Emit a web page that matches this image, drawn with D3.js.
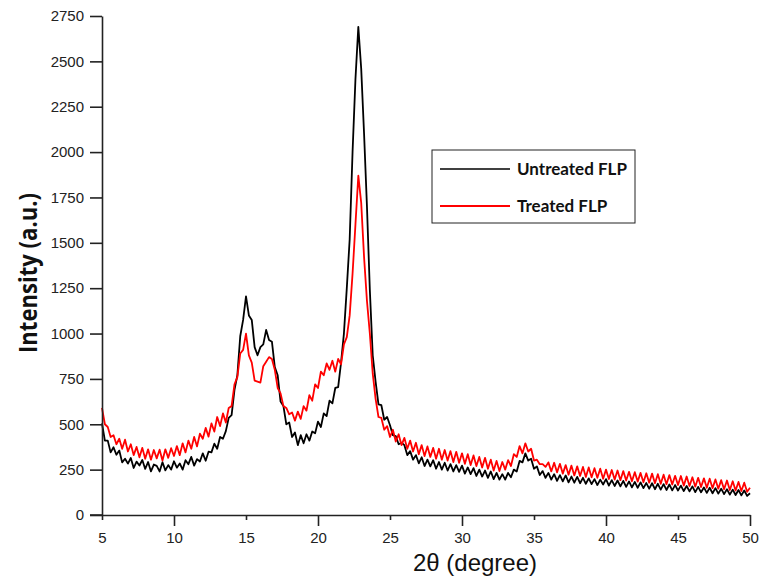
<!DOCTYPE html>
<html>
<head>
<meta charset="utf-8">
<script src="https://cdn.jsdelivr.net/npm/d3@7"></script>
<style>
  body { margin: 0; background: #fff; }
  svg { display: block; }
</style>
</head>
<body>
<div id="chart"></div>
<script>
///data, 2 theta from 5 to 50 every 0.2 degree
var thetaStart = 5, thetaEnd = 50, thetaStep = 0.2;

var untreated = [
  505, 410, 410, 345, 373,   332, 355, 290, 310, 283,
  314, 259, 294, 273, 303,   254, 292, 240, 278, 271,
  240, 291, 246, 275, 250,   296, 261, 284, 250, 302,
  280, 320, 272, 308, 295,   340, 299, 349, 345, 393,
  365, 430, 420, 462, 535,   550, 690, 770, 985, 1075,
  1205, 1100, 1075, 925, 880, 925, 940, 1020, 965, 955,
  815, 770, 625, 600, 500,   510, 430, 455, 385, 440,
  395, 445, 410, 460, 450,   515, 485, 560, 545, 630,
  615, 700, 705, 840, 1000,  1250, 1520, 2000, 2400, 2690,
  2460, 2100, 1700, 1240, 880, 735, 610, 605, 525, 540,
  495, 440, 435, 390, 398,   385, 330, 352, 305, 330,
  285, 318, 270, 305, 268,   302, 255, 292, 250, 288,
  245, 280, 240, 275, 238,   272, 228, 262, 225, 258,
  215, 250, 212, 245, 205,   240, 198, 232, 195, 225,
  195, 232, 208, 250, 240,   298, 290, 340, 300, 310,
  255, 268, 220, 242, 205,   232, 195, 225, 188, 220,
  185, 218, 180, 212, 178,   210, 175, 205, 172, 202,
  170, 198, 165, 195, 168,   198, 162, 192, 160, 190,
  158, 188, 155, 185, 152,   182, 150, 180, 148, 176,
  145, 175, 142, 172, 140,   170, 138, 168, 136, 165,
  135, 162, 132, 160, 130,   158, 126, 155, 125, 152,
  122, 150, 120, 148, 118,   145, 115, 142, 112, 140,
  110, 138, 108, 135, 105,   120
];

var treated = [
  590, 500, 485, 430, 440,   390, 420, 365, 415, 350,
  390, 330, 375, 318, 370,   310, 362, 305, 358, 312,
  360, 300, 362, 315, 368,   325, 380, 330, 395, 345,
  410, 365, 430, 378, 448,   420, 480, 432, 505, 460,
  540, 490, 560, 510, 590,   600, 720, 760, 890, 910,
  1000, 880, 840, 740, 735,  730, 820, 845, 870, 860,
  800, 700, 670, 600, 590,   555, 565, 520, 570, 530,
  600, 575, 660, 630, 720,   700, 790, 770, 835, 800,
  850, 790, 860, 830, 940,   980, 1100, 1330, 1600, 1870,
  1720, 1420, 1180, 1000, 780, 640, 540, 535, 470, 490,
  430, 470, 405, 445, 385,   425, 365, 410, 350, 398,
  335, 385, 325, 378, 320,   370, 310, 365, 305, 358,
  300, 352, 292, 348, 288,   340, 282, 335, 275, 328,
  270, 320, 262, 315, 255,   305, 245, 298, 242, 292,
  250, 302, 270, 335, 320,   380, 340, 395, 350, 365,
  300, 305, 280, 280, 265,   290, 240, 288, 235, 282,
  228, 275, 222, 272, 218,   268, 215, 265, 210, 262,
  208, 258, 205, 255, 200,   250, 198, 248, 195, 245,
  192, 242, 190, 238, 186,   236, 184, 232, 180, 230,
  178, 228, 175, 225, 172,   222, 170, 220, 168, 216,
  165, 215, 162, 212, 160,   208, 156, 205, 154, 202,
  150, 200, 148, 196, 145,   192, 142, 190, 138, 186,
  135, 182, 132, 178, 128,   150
];

var xTicks = [5, 10, 15, 20, 25, 30, 35, 40, 45, 50];
var yTicks = [0, 250, 500, 750, 1000, 1250, 1500, 1750, 2000, 2250, 2500, 2750];
var seriesNames = ["Untreated FLP", "Treated FLP"];
var seriesColors = ["#000000", "#ff0000"];

///sizes
var width = 761, height = 576;
var margin = { left: 102, right: 11, top: 16, bottom: 61 };

var svg = d3.select('#chart').append('svg')
    .attr('width', width)
    .attr('height', height);

var x = d3.scaleLinear()
    .domain([thetaStart, thetaEnd])
    .range([margin.left, width - margin.right]);

var y = d3.scaleLinear()
    .domain([0, 2750])
    .range([height - margin.bottom, margin.top]);

var theta = untreated.map((_, i) => +(thetaStart + i * thetaStep).toFixed(1));

var line = d3.line()
    .x((d, i) => x(theta[i]))
    .y(d => y(d));

///curves, red drawn over black
[untreated, treated].forEach((s, k) => {
    svg.append('path')
        .datum(s)
        .attr('fill', 'none')
        .attr('stroke', seriesColors[k])
        .attr('stroke-width', 1.8)
        .attr('stroke-linejoin', 'round')
        .attr('d', line);
});

///axes
var yAxis = svg.append('g')
    .attr('transform', `translate(${margin.left},0)`)
    .call(d3.axisLeft(y).tickValues(yTicks).tickFormat(d3.format('d'))
        .tickSize(12).tickPadding(6).tickSizeOuter(0));

var xAxis = svg.append('g')
    .attr('transform', `translate(0,${height - margin.bottom})`)
    .call(d3.axisBottom(x).tickValues(xTicks).tickFormat(d3.format('d'))
        .tickSize(11).tickPadding(6).tickSizeOuter(0));

xAxis.selectAll('.tick line')
    .attr('y2', d => d % 10 === 0 ? 11 : 5);

[xAxis, yAxis].forEach(a => {
    a.select('.domain').attr('stroke', '#222').attr('stroke-width', 1.6);
    a.selectAll('.tick line').attr('stroke', '#222').attr('stroke-width', 1.6);
    a.selectAll('.tick text')
        .attr('fill', '#222')
        .style('font-family', '"Liberation Sans", Arial, sans-serif')
        .style('font-size', '15px');
});

// x axis line runs a little past the y axis on the left
svg.append('line')
    .attr('x1', margin.left - 12).attr('x2', margin.left)
    .attr('y1', y(0)).attr('y2', y(0))
    .attr('stroke', '#222').attr('stroke-width', 1.6);

///axis titles
svg.append('text')
    .attr('transform', 'translate(37,273) rotate(-90)')
    .attr('text-anchor', 'middle')
    .attr('textLength', 160)
    .attr('lengthAdjust', 'spacingAndGlyphs')
    .style('font-family', '"Open Sans", sans-serif')
    .style('font-weight', 'bold')
    .style('font-size', '25px')
    .attr('fill', '#111')
    .text('Intensity (a.u.)');

svg.append('text')
    .attr('x', 475)
    .attr('y', 571)
    .attr('text-anchor', 'middle')
    .style('font-family', '"Liberation Sans", Arial, sans-serif')
    .style('font-size', '24px')
    .attr('fill', '#111')
    .text('2θ (degree)');

///legend
var legend = svg.append('g').attr('transform', 'translate(432,150)');

legend.append('rect')
    .attr('width', 203).attr('height', 73)
    .attr('fill', '#fff')
    .attr('stroke', '#222')
    .attr('stroke-width', 1);

seriesNames.forEach((name, k) => {
    var ly = 19 + k * 37;
    legend.append('line')
        .attr('x1', 8).attr('x2', 78)
        .attr('y1', ly).attr('y2', ly)
        .attr('stroke', seriesColors[k])
        .attr('stroke-width', k ? 2 : 1.3);
    legend.append('text')
        .attr('x', 85).attr('y', ly + 6)
        .style('font-family', 'Lato, sans-serif')
        .style('font-weight', 'bold')
        .style('font-size', '17px')
        .attr('fill', '#111')
        .text(name);
});
</script>
</body>
</html>
